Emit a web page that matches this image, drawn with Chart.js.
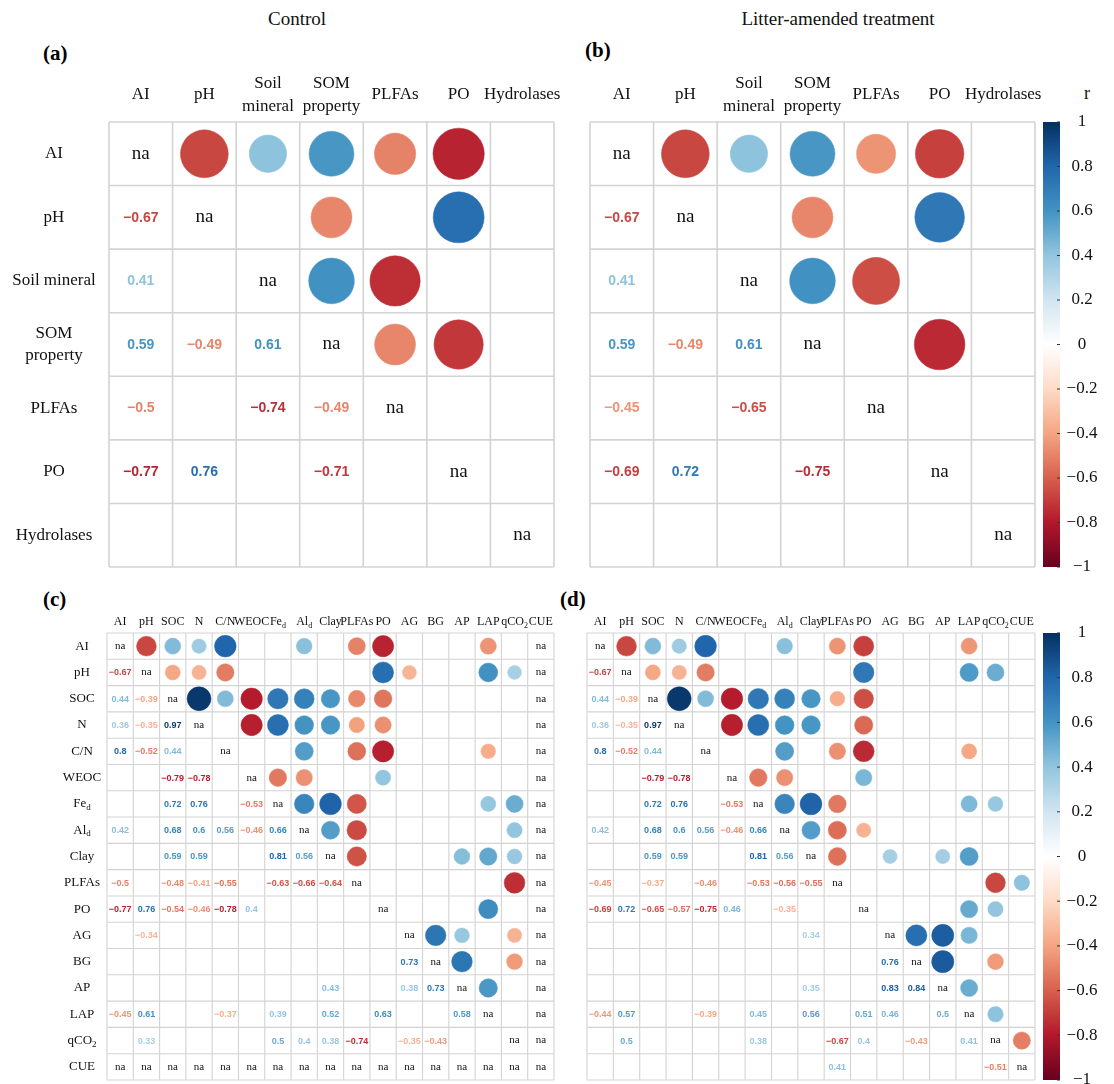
<!DOCTYPE html>
<html><head><meta charset="utf-8">
<script src="https://cdn.jsdelivr.net/npm/chart.js@4"></script>
<style>
html,body{margin:0;padding:0;background:#fff}
body{width:1114px;height:1084px;position:relative;overflow:hidden}
canvas{position:absolute}
.t{position:absolute;font-family:"Liberation Serif","Times New Roman",serif;color:#111;white-space:nowrap;transform:translate(-50%,-50%)}
.p{position:absolute;font-family:"Liberation Serif","Times New Roman",serif;font-weight:bold;color:#000;white-space:nowrap;transform:translateY(-50%)}
</style></head><body>
<div class="t" style="left:297px;top:19px;font-size:19px">Control</div>
<div class="t" style="left:838px;top:19px;font-size:19px">Litter-amended treatment</div>
<div class="p" style="left:43px;top:53px;font-size:21px">(a)</div>
<div class="p" style="left:585px;top:50px;font-size:21px">(b)</div>
<div class="p" style="left:43px;top:599px;font-size:21px">(c)</div>
<div class="p" style="left:560px;top:599px;font-size:21px">(d)</div>
<div class="t" style="left:1087px;top:93px;font-size:18px">r</div>
<canvas id="ca" width="560" height="585" style="left:0;top:0"></canvas>
<canvas id="cb" width="554" height="585" style="left:560px;top:0"></canvas>
<canvas id="cc" width="560" height="499" style="left:0;top:585px"></canvas>
<canvas id="cd" width="554" height="499" style="left:560px;top:585px"></canvas>
<script>
// ---------- DATA ----------
const colLabels7 = ['AI','pH','Soil\nmineral','SOM\nproperty','PLFAs','PO','Hydrolases'];
const rowLabels7 = ['AI','pH','Soil mineral','SOM\nproperty','PLFAs','PO','Hydrolases'];
const labels17 = ['AI','pH','SOC','N','C/N','WEOC','Fe_d','Al_d','Clay','PLFAs','PO','AG','BG','AP','LAP','qCO_2','CUE'];
const colorbarTicks = [1,0.8,0.6,0.4,0.2,0,-0.2,-0.4,-0.6,-0.8,-1];

// lower triangles (row i, columns 0..i); null = not significant (blank), 'na' = not available
const controlGroups = [
  ['na'],
  [-0.67,'na'],
  [0.41,null,'na'],
  [0.59,-0.49,0.61,'na'],
  [-0.5,null,-0.74,-0.49,'na'],
  [-0.77,0.76,null,-0.71,null,'na'],
  [null,null,null,null,null,null,'na']
];
const litterGroups = [
  ['na'],
  [-0.67,'na'],
  [0.41,null,'na'],
  [0.59,-0.49,0.61,'na'],
  [-0.45,null,-0.65,null,'na'],
  [-0.69,0.72,null,-0.75,null,'na'],
  [null,null,null,null,null,null,'na']
];
const controlVars = [
  ['na'],
  [-0.67,'na'],
  [0.44,-0.39,'na'],
  [0.36,-0.35,0.97,'na'],
  [0.8,-0.52,0.44,null,'na'],
  [null,null,-0.79,-0.78,null,'na'],
  [null,null,0.72,0.76,null,-0.53,'na'],
  [0.42,null,0.68,0.6,0.56,-0.46,0.66,'na'],
  [null,null,0.59,0.59,null,null,0.81,0.56,'na'],
  [-0.5,null,-0.48,-0.41,-0.55,null,-0.63,-0.66,-0.64,'na'],
  [-0.77,0.76,-0.54,-0.46,-0.78,0.4,null,null,null,null,'na'],
  [null,-0.34,null,null,null,null,null,null,null,null,null,'na'],
  [null,null,null,null,null,null,null,null,null,null,null,0.73,'na'],
  [null,null,null,null,null,null,null,null,0.43,null,null,0.38,0.73,'na'],
  [-0.45,0.61,null,null,-0.37,null,0.39,null,0.52,null,0.63,null,null,0.58,'na'],
  [null,0.33,null,null,null,null,0.5,0.4,0.38,-0.74,null,-0.35,-0.43,null,null,'na'],
  ['na','na','na','na','na','na','na','na','na','na','na','na','na','na','na','na','na']
];
const litterVars = [
  ['na'],
  [-0.67,'na'],
  [0.44,-0.39,'na'],
  [0.36,-0.35,0.97,'na'],
  [0.8,-0.52,0.44,null,'na'],
  [null,null,-0.79,-0.78,null,'na'],
  [null,null,0.72,0.76,null,-0.53,'na'],
  [0.42,null,0.68,0.6,0.56,-0.46,0.66,'na'],
  [null,null,0.59,0.59,null,null,0.81,0.56,'na'],
  [-0.45,null,-0.37,null,-0.46,null,-0.53,-0.56,-0.55,'na'],
  [-0.69,0.72,-0.65,-0.57,-0.75,0.46,null,-0.35,null,null,'na'],
  [null,null,null,null,null,null,null,null,0.34,null,null,'na'],
  [null,null,null,null,null,null,null,null,null,null,null,0.76,'na'],
  [null,null,null,null,null,null,null,null,0.35,null,null,0.83,0.84,'na'],
  [-0.44,0.57,null,null,-0.39,null,0.45,null,0.56,null,0.51,0.46,null,0.5,'na'],
  [null,0.5,null,null,null,null,0.38,null,null,-0.67,0.4,null,-0.43,null,0.41,'na'],
  [null,null,null,null,null,null,null,null,null,0.41,null,null,null,null,null,-0.51,'na']
];

// ---------- helpers ----------
const PAL = ["#67001F","#B2182B","#D6604D","#F4A582","#FDDBC7","#FFFFFF","#D1E5F0","#92C5DE","#4393C3","#2166AC","#053061"];
function hex2rgb(h){return [parseInt(h.substr(1,2),16),parseInt(h.substr(3,2),16),parseInt(h.substr(5,2),16)];}
const PALRGB = PAL.map(hex2rgb);
function colorFor(r){
  const t = (Math.max(-1,Math.min(1,r))+1)/2*(PAL.length-1);
  const i = Math.min(Math.floor(t), PAL.length-2), f = t-i;
  const a = PALRGB[i], b = PALRGB[i+1];
  const c = a.map((v,k)=>Math.round(v+(b[k]-v)*f));
  return 'rgb('+c.join(',')+')';
}
function cellVal(M,i,j){ return j<=i ? (M[i][j]===undefined?null:M[i][j]) : (M[j][i]===undefined?null:M[j][i]); }
function fmt(v){ return (v<0?'\u2212':'')+String(Math.abs(v)); }
const SERIF = '"Liberation Serif","Times New Roman",serif';
const SANS = '"Liberation Sans",Arial,sans-serif';

function drawLabel(ctx, label, x, y, size){
  const lines = label.split('\n');
  const lh = size*1.3;
  let y0 = y - (lines.length-1)*lh/2;
  ctx.textBaseline = 'middle';
  ctx.fillStyle = '#111';
  lines.forEach((ln,k)=>{
    const parts = ln.split('_');
    const base = parts[0], sub = parts[1] || '';
    ctx.font = size+'px '+SERIF;
    const wb = ctx.measureText(base).width;
    const ss = Math.round(size*0.68);
    ctx.font = ss+'px '+SERIF;
    const ws = sub ? ctx.measureText(sub).width : 0;
    let x0 = x - (wb+ws)/2;
    ctx.textAlign = 'left';
    ctx.font = size+'px '+SERIF;
    ctx.fillText(base, x0, y0 + k*lh);
    if (sub){
      ctx.font = ss+'px '+SERIF;
      ctx.fillText(sub, x0+wb, y0 + k*lh + size*0.3);
    }
  });
}

function makePanel(id, M, colLabels, rowLabels, st, pad, colorbar){
  const n = M.length;
  const pts = [];
  for (let i=0;i<n;i++) for (let j=i+1;j<n;j++){
    const v = cellVal(M,i,j);
    if (typeof v === 'number') pts.push({x:j, y:i, v:v});
  }
  const cellSize = c => { const xs=c.chart.scales.x; return Math.abs(xs.getPixelForValue(1)-xs.getPixelForValue(0)); };
  const rad = c => (c.raw && typeof c.raw.v==='number') ? 0.46*Math.sqrt(Math.abs(c.raw.v))*cellSize(c) : 0;
  const col = c => (c.raw && typeof c.raw.v==='number') ? colorFor(c.raw.v) : '#fff';
  const plugin = {
    id:'corr'+id,
    beforeDatasetsDraw(chart){
      const ctx = chart.ctx, xs = chart.scales.x, ys = chart.scales.y;
      ctx.save();
      ctx.strokeStyle = '#d3d3d3'; ctx.lineWidth = st.grid;
      const top = ys.getPixelForValue(-0.5), bot = ys.getPixelForValue(n-0.5);
      const lef = xs.getPixelForValue(-0.5), rig = xs.getPixelForValue(n-0.5);
      for (let k=0;k<=n;k++){
        const x = xs.getPixelForValue(k-0.5), y = ys.getPixelForValue(k-0.5);
        ctx.beginPath(); ctx.moveTo(x,top); ctx.lineTo(x,bot); ctx.stroke();
        ctx.beginPath(); ctx.moveTo(lef,y); ctx.lineTo(rig,y); ctx.stroke();
      }
      ctx.restore();
    },
    afterDatasetsDraw(chart){
      const ctx = chart.ctx, xs = chart.scales.x, ys = chart.scales.y;
      ctx.save();
      ctx.textAlign='center'; ctx.textBaseline='middle';
      for (let i=0;i<n;i++) for (let j=0;j<n;j++){
        const v = cellVal(M,i,j);
        const x = xs.getPixelForValue(j), y = ys.getPixelForValue(i);
        if (v==='na'){
          ctx.font = st.na+'px '+SERIF; ctx.fillStyle='#111';
          ctx.fillText('na', x, y);
        } else if (typeof v==='number' && j<i){
          ctx.font = 'bold '+st.num+'px '+SANS; ctx.fillStyle = colorFor(v);
          ctx.fillText(fmt(v), x, y+0.5);
        }
      }
      const top = ys.getPixelForValue(-0.5), lef = xs.getPixelForValue(-0.5);
      colLabels.forEach((l,j)=> drawLabel(ctx, l, xs.getPixelForValue(j), top - st.colOff, st.colLab));
      if (rowLabels) rowLabels.forEach((l,i)=> drawLabel(ctx, l, lef - st.rowOff, ys.getPixelForValue(i), st.lab));
      if (colorbar){
        const cb = chart.scales.cb;
        const x0 = xs.getPixelForValue(n-0.5) + 8, w = 17;
        const y1 = cb.getPixelForValue(1), y2 = cb.getPixelForValue(-1);
        const g = ctx.createLinearGradient(0,y2,0,y1);
        PAL.forEach((c,k)=> g.addColorStop(k/(PAL.length-1), c));
        ctx.fillStyle = g; ctx.fillRect(x0, y1, w, y2-y1);
        ctx.strokeStyle = '#333'; ctx.lineWidth = 1;
        ctx.font = st.cbLab+'px '+SERIF; ctx.fillStyle = '#111';
        ctx.textAlign='center'; ctx.textBaseline='middle';
        colorbarTicks.forEach(t=>{
          const y = cb.getPixelForValue(t);
          ctx.beginPath(); ctx.moveTo(x0+w-3, y); ctx.lineTo(x0+w, y); ctx.stroke();
          ctx.fillText(t===0?'0':fmt(t), x0 + 39, y);
        });
      }
      ctx.restore();
    }
  };
  return new Chart(document.getElementById(id), {
    type:'scatter',
    data:{datasets:[{data:pts, pointRadius:rad, pointHoverRadius:rad, backgroundColor:col, borderColor:col, pointBorderWidth:0.5, pointHoverBorderWidth:0.5}]},
    options:{
      responsive:false, animation:false, events:[],
      layout:{padding:pad},
      plugins:{legend:{display:false}, tooltip:{enabled:false}},
      scales:{
        x:{type:'linear', display:false, min:-0.5, max:n-0.5},
        y:{type:'linear', display:false, min:-0.5, max:n-0.5, reverse:true},
        cb:{type:'linear', display:false, position:'right', min:-1, max:1}
      }
    },
    plugins:[plugin]
  });
}

const big = {grid:1.6, na:19, num:14, lab:17, colLab:17, colOff:27, rowOff:55, cbLab:17};
const small = {grid:1.1, na:11, num:9, lab:13, colLab:12, colOff:11, rowOff:25, cbLab:17};
makePanel('ca', controlGroups, colLabels7, rowLabels7, big, {left:109, top:122, right:6, bottom:18}, false);
makePanel('cb', litterGroups, colLabels7, null, big, {left:30, top:122, right:79, bottom:18}, true);
makePanel('cc', controlVars, labels17, labels17, small, {left:107, top:48, right:6, bottom:4}, false);
makePanel('cd', litterVars, labels17, null, small, {left:27, top:48, right:79, bottom:4}, true);
</script>
</body></html>
